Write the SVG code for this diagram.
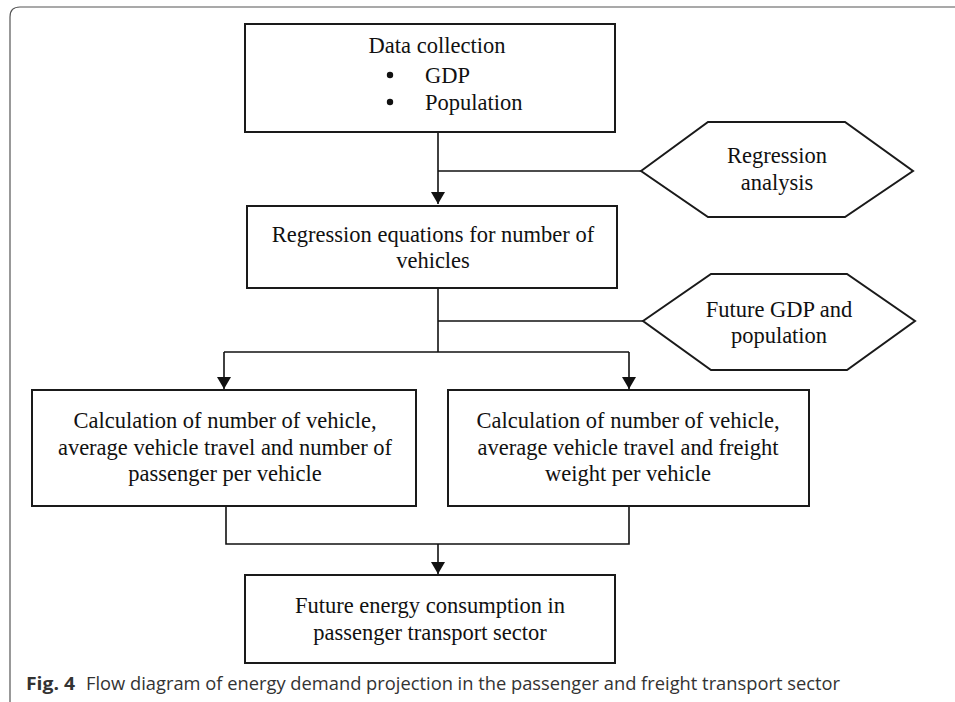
<svg xmlns="http://www.w3.org/2000/svg" width="955" height="702" viewBox="0 0 955 702">
<style>
.box{fill:#fff;stroke:#1a1a1a;stroke-width:2}
.t{font-family:"Liberation Serif","Times New Roman",serif;font-size:22.5px;fill:#111;text-anchor:middle}
.c{stroke:#111;stroke-width:1.6;fill:none}
.cap{font-family:"Open Sans","Noto Sans",sans-serif;font-size:18px;fill:#333}
</style>
<defs>
<marker id="ah" viewBox="0 0 12 14" refX="12" refY="7" markerWidth="12" markerHeight="14" markerUnits="userSpaceOnUse" orient="auto">
<path d="M0,0 L12,7 L0,14 Z" fill="#111"/>
</marker>
</defs>
<rect width="955" height="702" fill="#fff"/>
<path d="M10,702 L10,17 Q10,7 20,7 L955,7" fill="none" stroke="#555" stroke-width="1.2"/>
<g id="connectors">
<line class="c" x1="438" y1="133" x2="438" y2="204" marker-end="url(#ah)"/>
<line class="c" x1="438" y1="171" x2="641" y2="171"/>
<line class="c" x1="438" y1="289" x2="438" y2="352"/>
<line class="c" x1="438" y1="321" x2="643" y2="321"/>
<line class="c" x1="224" y1="352" x2="629" y2="352"/>
<line class="c" x1="224" y1="352" x2="224" y2="389" marker-end="url(#ah)"/>
<line class="c" x1="629" y1="352" x2="629" y2="389" marker-end="url(#ah)"/>
<polyline class="c" points="226,507 226,544 629,544 629,507"/>
<line class="c" x1="438" y1="544" x2="438" y2="574" marker-end="url(#ah)"/>
</g>
<g id="data-collection">
<rect class="box" x="245" y="24" width="370" height="108"/>
<text class="t" x="437" y="53">Data collection</text>
<circle cx="390" cy="75" r="3.2" fill="#111"/>
<text class="t" x="425" y="83" style="text-anchor:start">GDP</text>
<circle cx="390" cy="102" r="3.2" fill="#111"/>
<text class="t" x="425" y="110" style="text-anchor:start">Population</text>
</g>
<g id="regression-analysis">
<polygon class="box" points="641,171 708,122 845,122 913,171 845,217 708,217"/>
<text class="t" x="777" y="163">Regression</text>
<text class="t" x="777" y="190">analysis</text>
</g>
<g id="regression-equations">
<rect class="box" x="247" y="206" width="370" height="82"/>
<text class="t" x="433" y="242">Regression equations for number of</text>
<text class="t" x="433" y="268">vehicles</text>
</g>
<g id="future-gdp">
<polygon class="box" points="643,321 711,274 847,274 915,321 847,370 711,370"/>
<text class="t" x="779" y="317">Future GDP and</text>
<text class="t" x="779" y="343">population</text>
</g>
<g id="calc-passenger">
<rect class="box" x="32" y="390" width="384" height="116"/>
<text class="t" x="225" y="428">Calculation of number of vehicle,</text>
<text class="t" x="225" y="455">average vehicle travel and number of</text>
<text class="t" x="225" y="481">passenger per vehicle</text>
</g>
<g id="calc-freight">
<rect class="box" x="448" y="390" width="361" height="116"/>
<text class="t" x="628" y="428">Calculation of number of vehicle,</text>
<text class="t" x="628" y="455">average vehicle travel and freight</text>
<text class="t" x="628" y="481">weight per vehicle</text>
</g>
<g id="future-energy">
<rect class="box" x="245" y="575" width="370" height="88"/>
<text class="t" x="430" y="613">Future energy consumption in</text>
<text class="t" x="430" y="640">passenger transport sector</text>
</g>
<text class="cap" x="26" y="690" font-weight="bold" fill="#111" textLength="49" lengthAdjust="spacingAndGlyphs">Fig. 4</text>
<text class="cap" x="86" y="690" textLength="754" lengthAdjust="spacingAndGlyphs">Flow diagram of energy demand projection in the passenger and freight transport sector</text>
</svg>
